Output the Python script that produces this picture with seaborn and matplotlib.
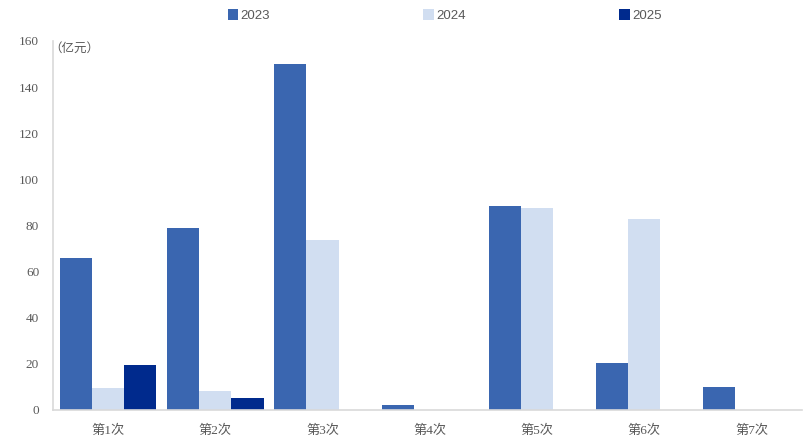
import matplotlib
matplotlib.use("Agg")
import matplotlib.pyplot as plt
import seaborn as sns
import pandas as pd
import numpy as np
from matplotlib.patches import Patch

categories = ["第1次", "第2次", "第3次", "第4次", "第5次", "第6次", "第7次"]
series_names = ["2023", "2024", "2025"]
v2023 = [66, 79, 150, 2, 88.5, 20.5, 10]
v2024 = [9.5, 8.2, 73.7, np.nan, 87.6, 82.8, np.nan]
v2025 = [19.5, 5.2, np.nan, np.nan, np.nan, np.nan, np.nan]
yticks = [0, 20, 40, 60, 80, 100, 120, 140, 160]
colors = ["#3A66B0", "#D1DEF1", "#002A8D"]

rows = []
for name, vals in zip(series_names, [v2023, v2024, v2025]):
    for c, v in zip(categories, vals):
        rows.append({"cat": c, "year": name, "value": v})
df = pd.DataFrame(rows)

sns.set_theme(style="white")
fam = ["Liberation Serif", "Noto Sans CJK SC", "DejaVu Sans"]
plt.rcParams["font.family"] = fam

fig = plt.figure(figsize=(8.04, 4.41), dpi=100)
ax = fig.add_axes([0.066, 0.0703, 0.931, 0.837])
sns.barplot(data=df, x="cat", y="value", hue="year", order=categories,
            hue_order=series_names, palette=colors, width=0.9, ax=ax,
            saturation=1, legend=False, linewidth=0)

ax.set_ylim(0, 160)
ax.set_yticks(yticks)
ax.set_xlim(-0.513, 6.467)
ax.set_xlabel("")
ax.set_ylabel("")
ax.tick_params(axis="both", length=0, labelsize=9.5, colors="#595959")
ax.tick_params(axis="y", pad=10)
ax.tick_params(axis="x", pad=11)
for s in ["top", "right"]:
    ax.spines[s].set_visible(False)
ax.spines["left"].set_color("#D9D9D9")
ax.spines["bottom"].set_color("#D9D9D9")
ax.spines["left"].set_linewidth(1.2)
ax.spines["bottom"].set_linewidth(1.2)

ax.text(-0.005, 0.996, "（亿元）", transform=ax.transAxes, ha="left", va="top",
        fontsize=9, color="#595959", family=fam)

handles = [Patch(facecolor=c, edgecolor="none") for c in colors]
fig.legend(handles, series_names, loc="center", bbox_to_anchor=(0.553, 0.964),
           ncol=3, frameon=False, handlelength=0.8, handleheight=0.9,
           handletextpad=0.2, columnspacing=11.6, labelcolor="#595959",
           prop={"family": ["Liberation Sans", "DejaVu Sans"], "size": 9.5})

fig.savefig("out.png", dpi=100)
